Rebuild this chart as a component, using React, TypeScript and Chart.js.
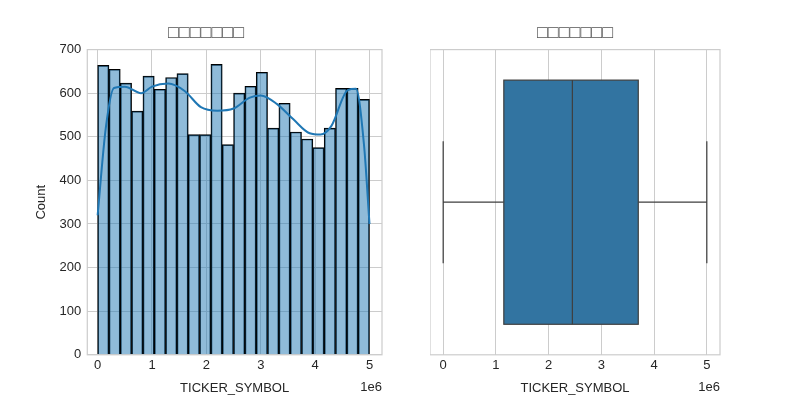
import { Chart, registerables } from 'chart.js';
import { useEffect, useRef } from 'react';

Chart.register(...registerables);

const TITLE = '□□□□□□□';
const binCounts = [664, 655, 623, 559, 639, 609, 636, 645, 505, 505, 666, 482, 600, 616, 648, 520, 577, 511, 495, 475, 520, 611, 611, 586];
const kdeX = [0, 0.15e6, 0.3e6, 0.5e6, 0.8e6, 1.0e6, 1.3e6, 1.6e6, 1.9e6, 2.2e6, 2.5e6, 2.8e6, 3.0e6, 3.3e6, 3.6e6, 3.9e6, 4.1e6, 4.3e6, 4.6e6, 4.75e6, 4.9e6, 5.0e6];
const kdeY = [320, 520, 612, 615, 600, 615, 622, 605, 568, 560, 565, 590, 595, 575, 540, 508, 505, 525, 607, 610, 480, 300];
const boxStats = { min: 0, q1: 1.15e6, median: 2.45e6, q3: 3.7e6, max: 5.0e6 };
const xTicks = [0, 1, 2, 3, 4, 5];

const FONT = "'Liberation Sans', Arial, sans-serif";
const TICK = '#262626';
const GRID = '#cccccc';

const framePlugin = {
  id: 'frame',
  afterDraw(chart: Chart) {
    const { ctx, chartArea: a } = chart;
    ctx.save();
    ctx.strokeStyle = GRID;
    ctx.lineWidth = 1.2;
    ctx.strokeRect(a.left, a.top, a.right - a.left, a.bottom - a.top);
    ctx.fillStyle = TICK;
    ctx.font = `13px ${FONT}`;
    ctx.textAlign = 'right';
    ctx.fillText('1e6', a.right, a.bottom + 36);
    ctx.restore();
  },
};

const boxPlugin = {
  id: 'box',
  beforeDatasetsDraw(chart: Chart) {
    const { ctx } = chart;
    const x = chart.scales.x;
    const y = chart.scales.y;
    const px = (v: number) => x.getPixelForValue(v);
    const top = y.getPixelForValue(0.4);
    const bot = y.getPixelForValue(-0.4);
    const mid = y.getPixelForValue(0);
    const wt = y.getPixelForValue(0.2);
    const wb = y.getPixelForValue(-0.2);
    ctx.save();
    ctx.strokeStyle = '#3f3f3f';
    ctx.lineWidth = 1.2;
    ctx.beginPath();
    ctx.moveTo(px(boxStats.min), mid); ctx.lineTo(px(boxStats.q1), mid);
    ctx.moveTo(px(boxStats.q3), mid); ctx.lineTo(px(boxStats.max), mid);
    ctx.moveTo(px(boxStats.min), wt); ctx.lineTo(px(boxStats.min), wb);
    ctx.moveTo(px(boxStats.max), wt); ctx.lineTo(px(boxStats.max), wb);
    ctx.stroke();
    ctx.fillStyle = '#3274a1';
    ctx.fillRect(px(boxStats.q1), top, px(boxStats.q3) - px(boxStats.q1), bot - top);
    ctx.strokeRect(px(boxStats.q1), top, px(boxStats.q3) - px(boxStats.q1), bot - top);
    ctx.beginPath();
    ctx.moveTo(px(boxStats.median), top); ctx.lineTo(px(boxStats.median), bot);
    ctx.stroke();
    ctx.restore();
  },
};

const xAxis = (extra: object) => ({
  type: 'linear',
  min: -0.25e6,
  max: 5.25e6,
  offset: false,
  afterBuildTicks: (s: any) => { s.ticks = xTicks.map((v) => ({ value: v * 1e6 })); },
  ticks: { color: TICK, font: { family: FONT, size: 13 }, callback: (v: any) => String(v / 1e6) },
  grid: { color: GRID, drawTicks: false, offset: false },
  border: { display: false },
  title: { display: true, text: 'TICKER_SYMBOL', color: TICK, font: { family: FONT, size: 13 }, padding: { top: 4 } },
  ...extra,
});

const titleOpts = { display: true, text: TITLE, color: '#555', font: { family: FONT, size: 18, weight: 'normal' as const }, padding: { top: 6, bottom: 6 } };

export default function App() {
  const leftRef = useRef<HTMLCanvasElement>(null);
  const rightRef = useRef<HTMLCanvasElement>(null);

  useEffect(() => {
    const w = 5e6 / binCounts.length;
    const left = new Chart(leftRef.current!, {
      type: 'bar',
      data: {
        datasets: [
          {
            type: 'line',
            data: kdeX.map((x, i) => ({ x, y: kdeY[i] })),
            borderColor: '#1f77b4',
            borderWidth: 2,
            pointRadius: 0,
            cubicInterpolationMode: 'monotone',
          } as any,
          {
            data: binCounts.map((c, i) => ({ x: (i + 0.5) * w, y: c })),
            backgroundColor: 'rgba(31,119,180,0.5)',
            borderColor: '#000',
            borderWidth: 1,
            barPercentage: 1,
            categoryPercentage: 1,
            grouped: false,
          },
        ],
      },
      options: {
        animation: false,
        responsive: false,
        layout: { padding: { right: 18, bottom: 0 } },
        plugins: { legend: { display: false }, tooltip: { enabled: false }, title: titleOpts },
        scales: {
          x: xAxis({ min: -0.19e6, max: 5.23e6 }) as any,
          y: {
            min: 0,
            max: 700,
            ticks: { stepSize: 100, color: TICK, font: { family: FONT, size: 13 }, padding: 6 },
            grid: { color: GRID, drawTicks: false },
            border: { display: false },
            title: { display: true, text: 'Count', color: TICK, font: { family: FONT, size: 13 } },
          },
        },
      },
      plugins: [framePlugin],
    });

    const right = new Chart(rightRef.current!, {
      type: 'scatter',
      data: { datasets: [{ data: [] }] },
      options: {
        animation: false,
        responsive: false,
        layout: { padding: { right: 18, left: 0 } },
        plugins: { legend: { display: false }, tooltip: { enabled: false }, title: titleOpts },
        scales: {
          x: xAxis({}) as any,
          y: { min: -0.5, max: 0.5, display: false },
        },
      },
      plugins: [boxPlugin, framePlugin],
    });

    return () => { left.destroy(); right.destroy(); };
  }, []);

  return (
    <div style={{ position: 'fixed', left: 0, top: 0, width: 800, height: 400, background: '#fff' }}>
      <canvas ref={leftRef} width={370} height={384} style={{ position: 'absolute', left: 30, top: 16 }} />
      <canvas ref={rightRef} width={308} height={384} style={{ position: 'absolute', left: 430, top: 16 }} />
    </div>
  );
}
